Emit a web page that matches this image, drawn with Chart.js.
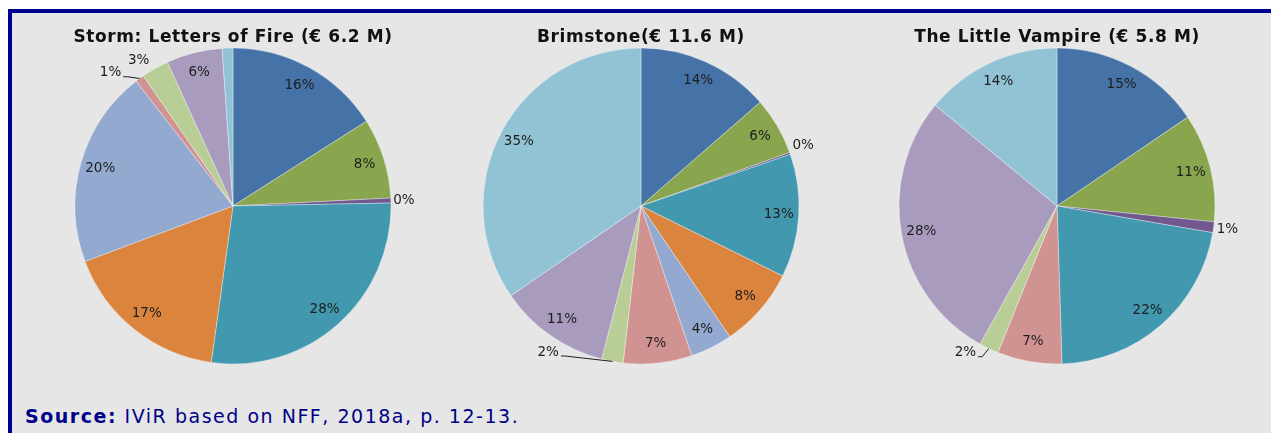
<!DOCTYPE html>
<html>
<head>
<meta charset="utf-8">
<script src="https://cdn.jsdelivr.net/npm/chart.js@4/dist/chart.umd.min.js"></script>
<style>
  html, body { margin: 0; padding: 0; background: #ffffff; width: 1271px; height: 433px; overflow: hidden; position: relative; }
  #frame { position: absolute; left: 8px; top: 9px; width: 1300px; height: 460px;
           border-top: 4px solid #000090; border-left: 4px solid #000090; background: #e6e6e6; }
  canvas { position: absolute; top: 20px; }
  #c1 { left: 33px; } #c2 { left: 441px; } #c3 { left: 857px; }
  #source { position: absolute; left: 25px; top: 407px; font-family: "DejaVu Sans", Verdana, sans-serif;
            font-size: 19px; line-height: 19px; color: #000088; letter-spacing: 1.52px; white-space: nowrap; }
  #source b { font-weight: bold; }
</style>
</head>
<body>
<div id="frame"></div>
<canvas id="c1" width="400" height="344"></canvas>
<canvas id="c2" width="400" height="344"></canvas>
<canvas id="c3" width="400" height="344"></canvas>
<div id="source"><b>Source:</b> IViR based on NFF, 2018a, p. 12-13.</div>
<script>
// ---- Data ----
const categories = ['Source 1', 'Source 2', 'Source 3', 'Source 4', 'Source 5',
                    'Source 6', 'Source 7', 'Source 8', 'Source 9', 'Source 10'];
const colors = ['#4572A7', '#89A54E', '#71588F', '#4198AF', '#DB843D',
                '#93A9CF', '#D19392', '#B9CD96', '#A99BBD', '#92C3D5'];

const stormTitle = 'Storm: Letters of Fire (€ 6.2 M)';
const stormValues = [16.0, 8.2, 0.5, 27.5, 17.1, 20.2, 0.9, 2.8, 5.7, 1.1];
const stormLabels = ['16%', '8%', '0%', '28%', '17%', '20%', '1%', '3%', '6%', ''];

const brimTitle = 'Brimstone(€ 11.6 M)';
const brimValues = [13.6, 5.9, 0.2, 12.6, 8.2, 4.3, 7.0, 2.2, 11.4, 34.6];
const brimLabels = ['14%', '6%', '0%', '13%', '8%', '4%', '7%', '2%', '11%', '35%'];

const vampTitle = 'The Little Vampire (€ 5.8 M)';
const vampValues = [15.5, 11.1, 1.1, 21.8, 0, 0, 6.6, 2.0, 27.9, 14.0];
const vampLabels = ['15%', '11%', '1%', '22%', '', '', '7%', '2%', '28%', '14%'];

// ---- Plugins ----
const titleSpacing = {
  id: 'titleSpacing',
  beforeDraw(chart) { chart.ctx.letterSpacing = '0.6px'; },
  beforeDatasetsDraw(chart) { chart.ctx.letterSpacing = '0px'; }
};

const pieLabels = {
  id: 'pieLabels',
  afterDatasetsDraw(chart, args, opts) {
    const ctx = chart.ctx;
    const meta = chart.getDatasetMeta(0);
    ctx.save();
    ctx.letterSpacing = '0px';
    ctx.font = '13.5px "DejaVu Sans"';
    ctx.fillStyle = '#1e1e1e';
    ctx.strokeStyle = '#1e1e1e';
    ctx.lineWidth = 1;
    ctx.textAlign = 'center';
    ctx.textBaseline = 'middle';
    meta.data.forEach((arc, i) => {
      const text = opts.labels[i];
      if (!text) return;
      const p = arc.getProps(['x', 'y', 'startAngle', 'endAngle', 'outerRadius'], true);
      const mid = (p.startAngle + p.endAngle) / 2;
      const out = opts.outside[i];
      if (!out) {
        const d = p.outerRadius - 20;
        ctx.fillText(text, p.x + Math.cos(mid) * d, p.y + Math.sin(mid) * d);
        return;
      }
      const a = mid + out.shift * Math.PI / 180;
      const d = p.outerRadius + out.dist;
      const lx = p.x + Math.cos(a) * d;
      const ly = p.y + Math.sin(a) * d;
      ctx.fillText(text, lx, ly);
      if (out.leader) {
        const w = ctx.measureText(text).width;
        const side = Math.cos(a) < 0 ? 1 : -1;
        const x0 = lx + side * (w / 2 + 2);
        const ex = p.x + Math.cos(mid) * p.outerRadius;
        const ey = p.y + Math.sin(mid) * p.outerRadius;
        ctx.beginPath();
        ctx.moveTo(x0, ly + 4);
        ctx.lineTo(x0 + side * 4, ly + 4);
        ctx.lineTo(ex, ey);
        ctx.stroke();
      }
    });
    ctx.restore();
  }
};

function makePie(id, title, values, labels, outside) {
  return new Chart(document.getElementById(id), {
    type: 'pie',
    data: {
      labels: categories,
      datasets: [{
        data: values,
        backgroundColor: colors,
        borderColor: 'rgba(255,255,255,0.35)',
        borderWidth: 1,
        radius: 158
      }]
    },
    options: {
      responsive: false,
      devicePixelRatio: 1,
      animation: false,
      layout: { padding: 0 },
      plugins: {
        legend: { display: false },
        tooltip: { enabled: false },
        title: {
          display: true,
          text: title,
          color: '#111111',
          font: { family: '"DejaVu Sans"', size: 17, weight: 'bold', lineHeight: 1.2 },
          padding: { top: 7, bottom: 0.6 }
        },
        pieLabels: { labels: labels, outside: outside }
      }
    },
    plugins: [titleSpacing, pieLabels]
  });
}

makePie('c1', stormTitle, stormValues, stormLabels, {
  2: { dist: 13, shift: 0 },
  6: { dist: 23, shift: -6.4, leader: true },
  7: { dist: 15, shift: -3.5 }
});
makePie('c2', brimTitle, brimValues, brimLabels, {
  2: { dist: 15, shift: -1 },
  7: { dist: 15, shift: 22, leader: true }
});
makePie('c3', vampTitle, vampValues, vampLabels, {
  2: { dist: 14, shift: 0 },
  7: { dist: 15, shift: 6.4, leader: true }
});
</script>
</body>
</html>
